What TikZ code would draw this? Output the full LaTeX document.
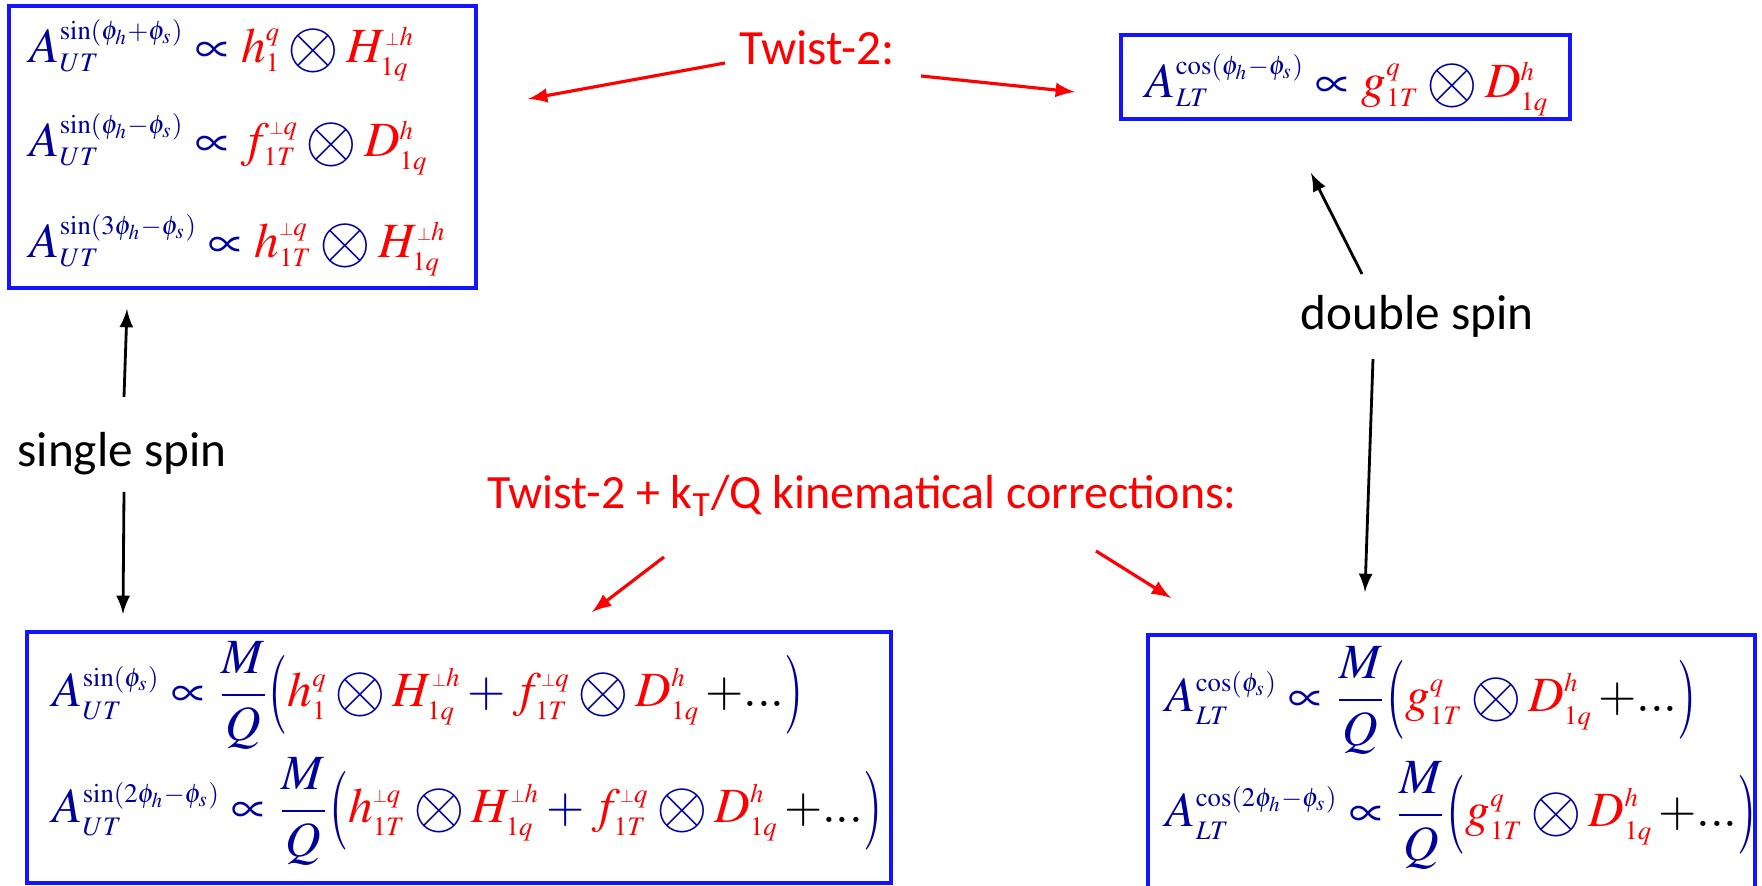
\documentclass[tikz,border=0pt]{standalone}
\usepackage{mathptmx}
\usepackage[no-math]{fontspec}
\setmainfont{Carlito}
\usetikzlibrary{arrows}
\DeclareMathSizes{14}{14}{7.6}{6}

\definecolor{eqblue}{RGB}{0,0,155}
\definecolor{boxblue}{RGB}{20,20,255}
\newcommand{\tmd}[1]{{\color{red}#1}}
\newcommand{\etc}{\,{\color{black}+...}}
\newcommand{\conv}{\mathbin{\vcenter{\hbox{\scalebox{1.35}{$\otimes$}}}}}
\newcommand{\pp}{\mathord{\scalebox{0.68}{$\scriptstyle\perp$}}}
\newcommand{\lbig}{\mathopen{\vcenter{\hbox{\scalebox{1}[1.6]{$($}}}}}
\newcommand{\rbig}{\mathclose{\vcenter{\hbox{\scalebox{1}[1.6]{$)$}}}}}

\tikzset{
  box/.style={draw=boxblue, line width=1.1pt, inner sep=0pt},
  row/.style={anchor=base west, inner sep=0pt, text=eqblue, font=\fontsize{14}{17}\selectfont},
  lbl/.style={anchor=base, inner sep=0pt, font=\fontsize{14}{17}\selectfont},
}

\begin{document}
\begin{tikzpicture}[x=0.01cm, y=-0.01cm, >=latex]

\useasboundingbox (0,0) rectangle (1762,886);

% boxes
\node[box, minimum width=4.67cm, minimum height=2.82cm] (tl) at (242.5,147) {};
\node[box, minimum width=4.49cm, minimum height=0.84cm] (tr) at (1345.5,77) {};
\node[box, minimum width=8.64cm, minimum height=2.51cm] (bl) at (459,757.5) {};
\node[box, minimum width=6.07cm, minimum height=2.70cm] (br) at (1451.5,770) {};

% single spin asymmetries, twist-2
\node[row] (tl1) at (29,63)  {$A^{\sin(\phi_h+\phi_s)}_{UT} \propto \tmd{h^q_1} \conv \tmd{H^{\pp h}_{1q}}$};
\node[row] (tl2) at (29,157) {$A^{\sin(\phi_h-\phi_s)}_{UT} \propto \tmd{f^{\pp q}_{1T}} \conv \tmd{D^h_{1q}}$};
\node[row] (tl3) at (29,258) {$A^{\sin(3\phi_h-\phi_s)}_{UT} \propto \tmd{h^{\pp q}_{1T}} \conv \tmd{H^{\pp h}_{1q}}$};

% double spin asymmetry, twist-2
\node[row] (tr1) at (1145,98) {$A^{\cos(\phi_h-\phi_s)}_{LT} \propto \tmd{g^q_{1T}} \conv \tmd{D^h_{1q}}$};

% kT/Q corrections
\node[row] (bl1) at (52,707) {$\displaystyle A^{\sin(\phi_s)}_{UT} \propto \frac{M}{Q}\lbig\tmd{h^q_1} \conv \tmd{H^{\pp h}_{1q}} + \tmd{f^{\pp q}_{1T}} \conv \tmd{D^h_{1q}}\etc\rbig$};
\node[row] (bl2) at (52,823) {$\displaystyle A^{\sin(2\phi_h-\phi_s)}_{UT} \propto \frac{M}{Q}\lbig\tmd{h^{\pp q}_{1T}} \conv \tmd{H^{\pp h}_{1q}} + \tmd{f^{\pp q}_{1T}} \conv \tmd{D^h_{1q}}\etc\rbig$};
\node[row] (br1) at (1165,712) {$\displaystyle A^{\cos(\phi_s)}_{LT} \propto \frac{M}{Q}\lbig\tmd{g^q_{1T}} \conv \tmd{D^h_{1q}}\etc\rbig$};
\node[row] (br2) at (1165,827) {$\displaystyle A^{\cos(2\phi_h-\phi_s)}_{LT} \propto \frac{M}{Q}\lbig\tmd{g^q_{1T}} \conv \tmd{D^h_{1q}}\etc\rbig$};

% labels
\node[lbl, text=red] (tw) at (817,65) {Twist-2:};
\node[lbl, text=red, font=\fontsize{13.6}{17}\selectfont] (kt) at (862,509) {Twist-2 + k\textsubscript{T}/Q kinematical corrections:};
\node[lbl] (ss) at (122,467) {single spin};
\node[lbl] (ds) at (1417,330) {double spin};

% arrow ends
\coordinate (ss-a) at (124,397);  \coordinate (ss-b) at (127,309);
\coordinate (ss-c) at (124,492);  \coordinate (ss-d) at (123,614);
\coordinate (ds-a) at (1362,274); \coordinate (ds-b) at (1311,173);
\coordinate (ds-c) at (1373,359); \coordinate (ds-d) at (1365,592);
\coordinate (tw-a) at (725,63);   \coordinate (tw-b) at (528,99);
\coordinate (tw-c) at (921,76);   \coordinate (tw-d) at (1075,92);
\coordinate (kt-a) at (664,557);  \coordinate (kt-b) at (592,612);
\coordinate (kt-c) at (1096,551); \coordinate (kt-d) at (1171,598);

% black arrows
\draw[->, line width=0.8pt] (ss-a) -- (ss-b);
\draw[->, line width=0.8pt] (ss-c) -- (ss-d);
\draw[->, line width=0.8pt] (ds-a) -- (ds-b);
\draw[->, line width=0.8pt] (ds-c) -- (ds-d);

% red arrows
\draw[->, red, line width=0.9pt] (tw-a) -- (tw-b);
\draw[->, red, line width=0.9pt] (tw-c) -- (tw-d);
\draw[->, red, line width=0.9pt] (kt-a) -- (kt-b);
\draw[->, red, line width=0.9pt] (kt-c) -- (kt-d);

\end{tikzpicture}
\end{document}
